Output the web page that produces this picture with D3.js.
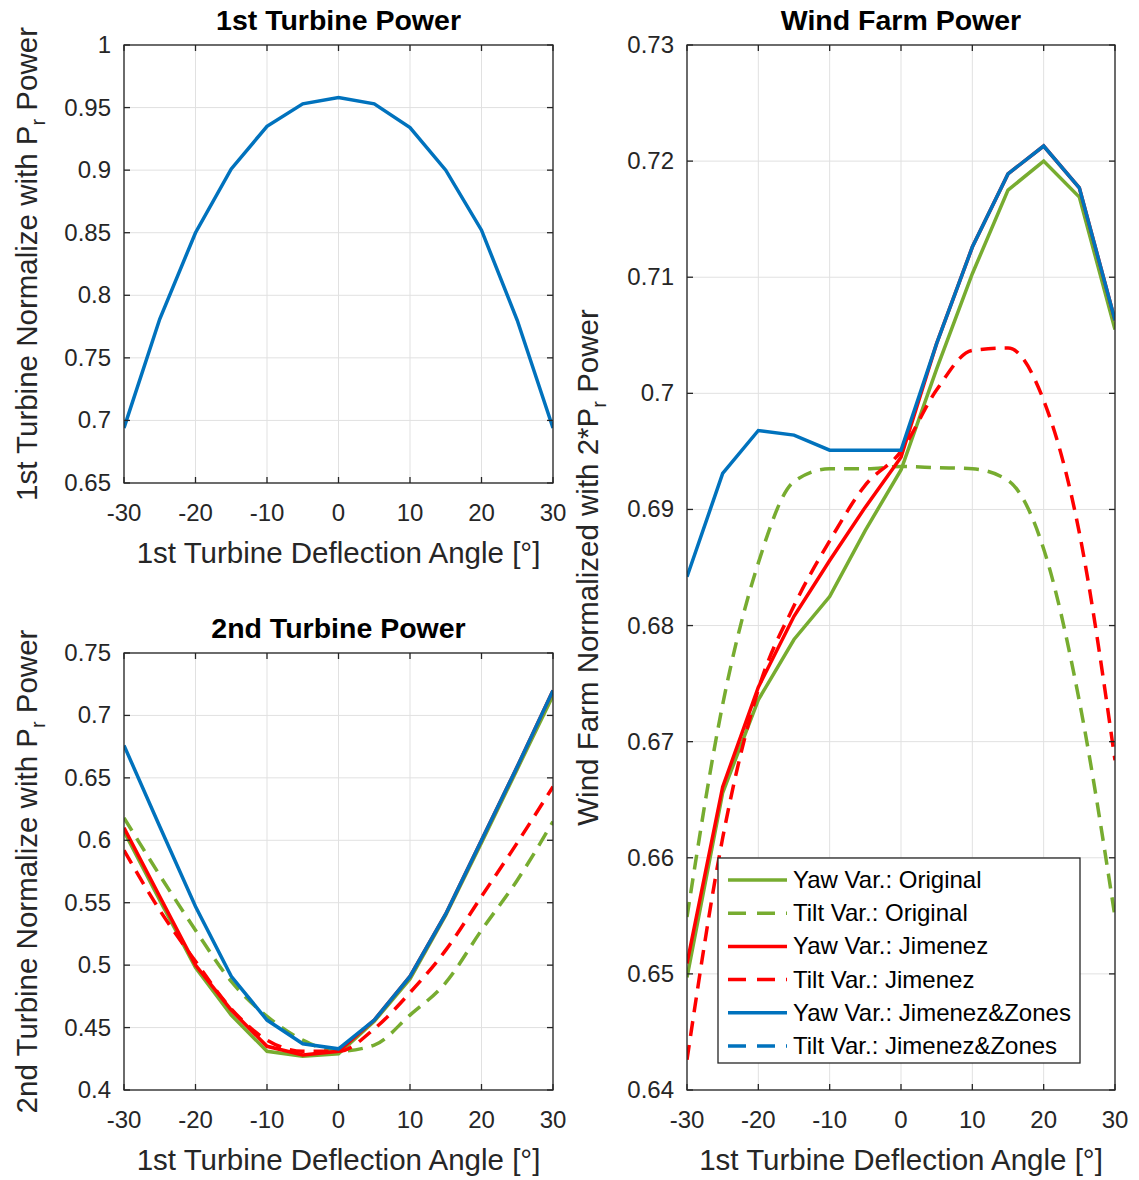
<!DOCTYPE html>
<meta charset="utf-8">
<html>
<style>
body { margin: 0; background: #fff; }
text { font-family: "Liberation Sans", Arial, sans-serif; }
.grid line { stroke: #e1e1e1; stroke-width: 1; }
.frame { fill: none; stroke: #262626; stroke-width: 1.3; }
.tick-mark { stroke: #262626; stroke-width: 1.3; }
.tick-label { fill: #262626; font-size: 24px; }
.axis-label { fill: #262626; font-size: 29.5px; }
.title { fill: #000; font-size: 28.5px; font-weight: bold; }
.legend-box { fill: #fff; stroke: #262626; stroke-width: 1.3; }
.legend-text { fill: #000; font-size: 24px; }
</style>
<body>
<script src="https://cdn.jsdelivr.net/npm/d3@7"></script>
<script>
	// deflection angle of the 1st turbine [deg]
	var angles = [-30, -25, -20, -15, -10, -5, 0, 5, 10, 15, 20, 25, 30];
	var angleTicks = [-30, -20, -10, 0, 10, 20, 30];

	// 1st turbine power
	var turbine1 = [0.694, 0.781, 0.850, 0.901, 0.935, 0.953, 0.958, 0.953, 0.934, 0.900, 0.852, 0.780, 0.694];

	// 2nd turbine power
	var t2YawOriginal  = [0.607, 0.552, 0.498, 0.460, 0.431, 0.427, 0.429, 0.455, 0.489, 0.540, 0.598, 0.657, 0.716];
	var t2TiltOriginal = [0.618, 0.572, 0.528, 0.487, 0.459, 0.440, 0.431, 0.436, 0.460, 0.486, 0.528, 0.568, 0.615];
	var t2YawJimenez   = [0.610, 0.555, 0.500, 0.464, 0.435, 0.428, 0.431, 0.456, 0.491, 0.541, 0.600, 0.659, 0.720];
	var t2TiltJimenez  = [0.592, 0.544, 0.503, 0.465, 0.440, 0.431, 0.431, 0.449, 0.478, 0.512, 0.555, 0.598, 0.643];
	var t2YawZones     = [0.676, 0.611, 0.547, 0.491, 0.456, 0.437, 0.433, 0.456, 0.491, 0.541, 0.600, 0.659, 0.720];

	// wind farm power
	var farmYawOriginal  = [0.6497, 0.6656, 0.6736, 0.6788, 0.6825, 0.6882, 0.6934, 0.7021, 0.7103, 0.7175, 0.7200, 0.7169, 0.7055];
	var farmTiltOriginal = [0.6549, 0.6732, 0.6854, 0.6924, 0.6935, 0.6935, 0.6937, 0.6936, 0.6935, 0.6925, 0.6866, 0.6735, 0.6549];
	var farmYawJimenez   = [0.6509, 0.6661, 0.6747, 0.6808, 0.6856, 0.6902, 0.6945, 0.7043, 0.7126, 0.7189, 0.7213, 0.7177, 0.7063];
	var farmTiltJimenez  = [0.6426, 0.6617, 0.6745, 0.6817, 0.6873, 0.6921, 0.6950, 0.7003, 0.7037, 0.7039, 0.6994, 0.6880, 0.6684];
	var farmYawZones     = [0.6842, 0.6931, 0.6968, 0.6964, 0.6951, 0.6951, 0.6951, 0.7043, 0.7126, 0.7189, 0.7213, 0.7177, 0.7063];

	var legendLabels = ["Yaw Var.: Original", "Tilt Var.: Original", "Yaw Var.: Jimenez",
		"Tilt Var.: Jimenez", "Yaw Var.: Jimenez&Zones", "Tilt Var.: Jimenez&Zones"];

	var green = "#77AC30", red = "#FF0000", blue = "#0072BD";
	var legendStyles = [[green, false], [green, true], [red, false], [red, true], [blue, false], [blue, true]];

	var width = 1139, height = 1180;

	var svg = d3.select("body").append("svg")
		.attr("width", width)
		.attr("height", height);

	var fmt = d => String(+d.toFixed(2));

	function drawPanel(opt) {
		var x = d3.scaleLinear().domain([-30, 30]).range([opt.left, opt.right]);
		var y = d3.scaleLinear().domain(opt.yDomain).range([opt.bottom, opt.top]);
		var yTicks = d3.range(opt.yDomain[0], opt.yDomain[1] + opt.yStep / 2, opt.yStep);

		var g = svg.append("g");
		var clipId = "clip" + opt.left + "_" + opt.top;
		g.append("clipPath").attr("id", clipId).append("rect")
			.attr("x", opt.left).attr("y", opt.top)
			.attr("width", opt.right - opt.left).attr("height", opt.bottom - opt.top);

		var grid = g.append("g").attr("class", "grid");
		grid.selectAll(".gx").data(angleTicks).enter().append("line")
			.attr("x1", d => x(d)).attr("x2", d => x(d))
			.attr("y1", opt.top).attr("y2", opt.bottom);
		grid.selectAll(".gy").data(yTicks).enter().append("line")
			.attr("x1", opt.left).attr("x2", opt.right)
			.attr("y1", d => y(d)).attr("y2", d => y(d));

		var line = d3.line().x((d, i) => x(angles[i])).y(d => y(d));
		var smooth = d3.line().x((d, i) => x(angles[i])).y(d => y(d)).curve(d3.curveMonotoneX);

		var lines = g.append("g").attr("clip-path", "url(#" + clipId + ")");
		opt.series.forEach(function(s) {
			lines.append("path")
				.datum(s.values)
				.attr("fill", "none")
				.attr("stroke", s.color)
				.attr("stroke-width", 3.5)
				.attr("stroke-dasharray", s.dashed ? "15,9" : null)
				.attr("d", s.dashed ? smooth : line);
		});

		g.append("rect").attr("class", "frame")
			.attr("x", opt.left).attr("y", opt.top)
			.attr("width", opt.right - opt.left).attr("height", opt.bottom - opt.top);

		var tl = 6;
		angleTicks.forEach(function(d) {
			g.append("line").attr("class", "tick-mark")
				.attr("x1", x(d)).attr("x2", x(d)).attr("y1", opt.bottom).attr("y2", opt.bottom - tl);
			g.append("line").attr("class", "tick-mark")
				.attr("x1", x(d)).attr("x2", x(d)).attr("y1", opt.top).attr("y2", opt.top + tl);
			g.append("text").attr("class", "tick-label")
				.attr("x", x(d)).attr("y", opt.bottom + 38)
				.attr("text-anchor", "middle").text(d);
		});
		yTicks.forEach(function(d) {
			g.append("line").attr("class", "tick-mark")
				.attr("x1", opt.left).attr("x2", opt.left + tl).attr("y1", y(d)).attr("y2", y(d));
			g.append("line").attr("class", "tick-mark")
				.attr("x1", opt.right).attr("x2", opt.right - tl).attr("y1", y(d)).attr("y2", y(d));
			g.append("text").attr("class", "tick-label")
				.attr("x", opt.left - 13).attr("y", y(d) + 8)
				.attr("text-anchor", "end").text(fmt(d));
		});

		var cx = (opt.left + opt.right) / 2;
		g.append("text").attr("class", "title")
			.attr("x", cx).attr("y", opt.top - 15)
			.attr("text-anchor", "middle").text(opt.title);
		g.append("text").attr("class", "axis-label")
			.attr("x", cx).attr("y", opt.bottom + 80)
			.attr("text-anchor", "middle").text("1st Turbine Deflection Angle [°]");

		var cy = (opt.top + opt.bottom) / 2;
		var yl = g.append("text").attr("class", "axis-label")
			.attr("transform", "translate(" + opt.yLabelX + "," + cy + ") rotate(-90)")
			.attr("text-anchor", "middle");
		yl.append("tspan").text(opt.yLabel[0]);
		yl.append("tspan").attr("dy", 8).attr("font-size", 20).text("r");
		yl.append("tspan").attr("dy", -8).text(" Power");

		return {x: x, y: y, g: g};
	}

	drawPanel({
		left: 124, right: 553, top: 45, bottom: 483,
		yDomain: [0.65, 1], yStep: 0.05,
		title: "1st Turbine Power",
		yLabel: ["1st Turbine Normalize with P"], yLabelX: 37,
		series: [{values: turbine1, color: blue, dashed: false}]
	});

	drawPanel({
		left: 124, right: 553, top: 653, bottom: 1090,
		yDomain: [0.4, 0.75], yStep: 0.05,
		title: "2nd Turbine Power",
		yLabel: ["2nd Turbine Normalize with P"], yLabelX: 37,
		series: [
			{values: t2YawOriginal, color: green, dashed: false},
			{values: t2TiltOriginal, color: green, dashed: true},
			{values: t2YawJimenez, color: red, dashed: false},
			{values: t2TiltJimenez, color: red, dashed: true},
			{values: t2YawZones, color: blue, dashed: false}
		]
	});

	drawPanel({
		left: 687, right: 1115, top: 45, bottom: 1090,
		yDomain: [0.64, 0.73], yStep: 0.01,
		title: "Wind Farm Power",
		yLabel: ["Wind Farm Normalized with 2*P"], yLabelX: 598,
		series: [
			{values: farmYawOriginal, color: green, dashed: false},
			{values: farmTiltOriginal, color: green, dashed: true},
			{values: farmYawJimenez, color: red, dashed: false},
			{values: farmTiltJimenez, color: red, dashed: true},
			{values: farmYawZones, color: blue, dashed: false}
		]
	});

	// legend of the wind farm panel
	var legend = svg.append("g").attr("transform", "translate(718,858)");
	legend.append("rect").attr("class", "legend-box")
		.attr("width", 362).attr("height", 205);
	legendLabels.forEach(function(label, i) {
		var ly = 22 + i * 33.2;
		legend.append("line")
			.attr("x1", 10).attr("x2", 69).attr("y1", ly).attr("y2", ly)
			.attr("stroke", legendStyles[i][0]).attr("stroke-width", 3.5)
			.attr("stroke-dasharray", legendStyles[i][1] ? "18,11" : null);
		legend.append("text").attr("class", "legend-text")
			.attr("x", 75).attr("y", ly + 8).text(label);
	});
</script>
</body>
</html>
